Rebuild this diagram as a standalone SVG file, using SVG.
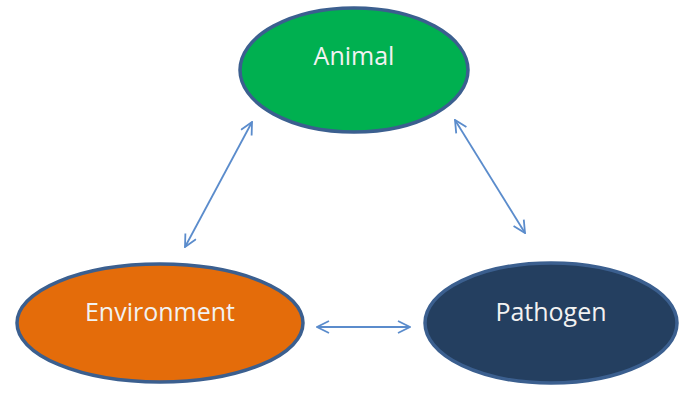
<svg xmlns="http://www.w3.org/2000/svg" width="689" height="394" viewBox="0 0 689 394">
<style>
.node ellipse{stroke:#3b5f8f;stroke-width:3.5}
.node text{font-family:"Open Sans","Liberation Sans",sans-serif;font-size:25px;fill:#f2f2f2;text-anchor:middle}
.conn line{stroke:#5b8ccc;stroke-width:1.8;fill:none}
</style>
<defs>
<marker id="ah" viewBox="0 0 14 14" refX="13" refY="7" markerWidth="14" markerHeight="14" markerUnits="userSpaceOnUse" orient="auto-start-reverse">
<path d="M1,1 L13,7 L1,13" fill="none" stroke="#5b8ccc" stroke-width="1.8"/>
</marker>
</defs>
<g class="conn">
<line x1="252" y1="122" x2="185" y2="247" marker-start="url(#ah)" marker-end="url(#ah)"/>
<line x1="455" y1="120" x2="525" y2="233" marker-start="url(#ah)" marker-end="url(#ah)"/>
<line x1="317" y1="327" x2="410" y2="327" marker-start="url(#ah)" marker-end="url(#ah)"/>
</g>
<g id="animal" class="node">
<ellipse cx="354" cy="70" rx="114" ry="62" fill="#00b050"/>
<text x="354" y="65">Animal</text>
</g>
<g id="environment" class="node">
<ellipse cx="160" cy="323" rx="143" ry="59" fill="#e46c0a"/>
<text x="160" y="321">Environment</text>
</g>
<g id="pathogen" class="node">
<ellipse cx="551" cy="323" rx="126" ry="60" fill="#243f60"/>
<text x="551" y="321">Pathogen</text>
</g>
</svg>
